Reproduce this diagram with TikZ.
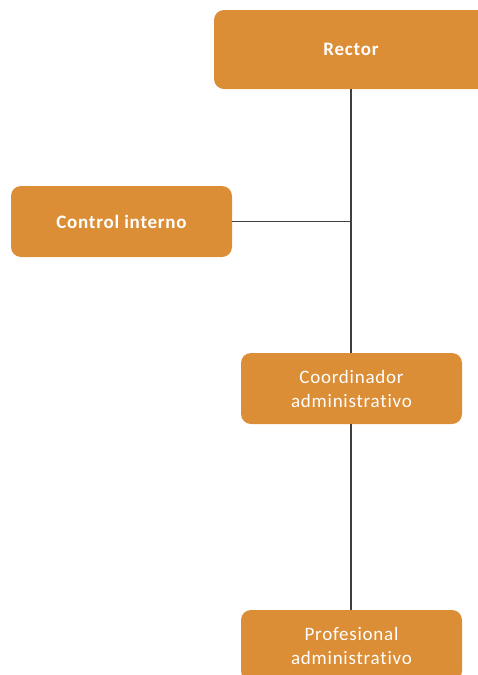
\documentclass[tikz,border=0pt]{standalone}
\usepackage{fontspec}
\setmainfont{Carlito}[Ligatures=NoCommon, LetterSpace=4]
\usetikzlibrary{positioning}
\definecolor{boxorange}{HTML}{DC8E37}
\definecolor{linkgray}{HTML}{404040}

\begin{document}
\begin{tikzpicture}[x=1pt,y=-1pt, semithick, every node/.style={font=\fontsize{19}{24}\selectfont},
  unit/.style={fill=boxorange, rounded corners=10pt, text=white, align=center, inner sep=0pt, minimum width=221pt, minimum height=71pt},
  head/.style={unit, font=\fontsize{19}{24}\selectfont\bfseries},
  link/.style={draw=linkgray, line width=1.2pt}]
\useasboundingbox (0,0) rectangle (478,675);
\clip (0,0) rectangle (478,675);
     \node[head, minimum width=274pt, minimum height=79pt] (rector) at (351,49.5) {Rector};
     \node[head] (ctrl) at (121.5,221.5) {Control interno};
     \node[unit] (coord) at (351.5,388.5) {Coordinador\\administrativo};
     \node[unit] (prof) at (351.5,645.5) {Profesional\\administrativo};
     \draw[link] (rector.south) -- (coord.north -| rector.south)
       (ctrl.east) -- (ctrl.east -| rector.south)
       (coord.south -| rector.south) -- (prof.north -| rector.south);
\end{tikzpicture}
\end{document}
